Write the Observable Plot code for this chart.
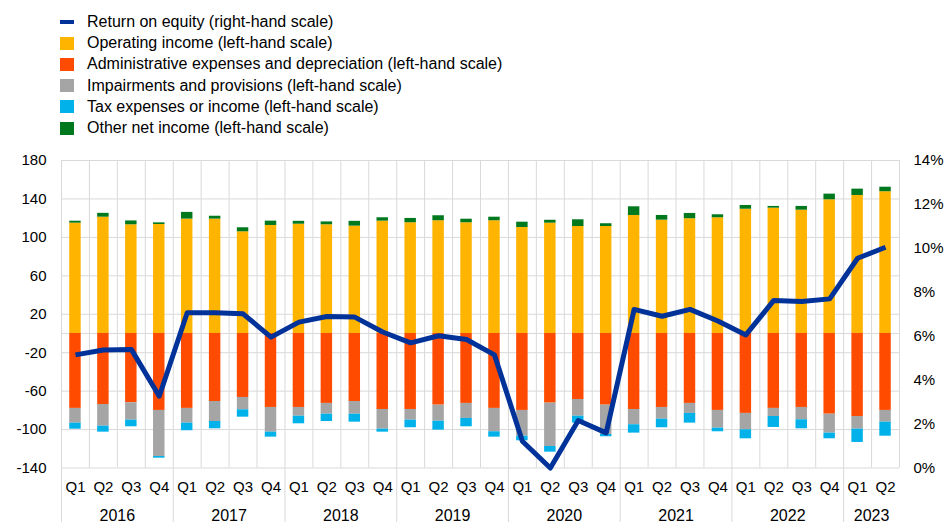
<!DOCTYPE html>
<html><head><meta charset="utf-8">
<script src="https://cdn.jsdelivr.net/npm/d3@7"></script>
<script src="https://cdn.jsdelivr.net/npm/@observablehq/plot@0.6"></script>
<style>
body{margin:0;background:#fff;font-family:Arial,"Liberation Sans",sans-serif;}
#legend{position:relative;height:140px;width:944px;}
.item{position:absolute;left:60px;height:20px;display:flex;align-items:center;font-size:16px;color:#000;white-space:nowrap;}
.sw{width:14px;height:13px;margin-right:13px;flex:none;}
.sw.line{height:4px;}
</style></head><body>
<div id="legend"></div><div id="chart"></div>
<script>
const years = ["2016","2017","2018","2019","2020","2021","2022","2023"];
const quartersPerYear = [4,4,4,4,4,4,4,2];
const quarterNames = ["Q1","Q2","Q3","Q4"];

const operating = [114.8,121,113.1,113.4,119,119,105.8,112.4,113.7,113.1,111.7,116.9,115.2,117.3,115.2,117.3,110.3,114.8,111.3,111.3,122.8,117.9,119.4,120.4,129.3,130.4,128.3,139.1,143.6,147.5];
const adminExp = [-78,-73.9,-72.1,-80.1,-78,-70.8,-66.6,-77,-77,-72.8,-70.8,-79.1,-79.1,-74.6,-72.8,-78,-80.1,-72.5,-68.7,-74.6,-79.1,-77,-72.8,-80.1,-83.2,-78,-77,-84,-86.4,-80.1];
const impairments = [-15.3,-22.6,-18.1,-47.9,-15.3,-20.8,-12.8,-25.7,-9.1,-11.2,-13.2,-20.5,-11.1,-16.7,-15.6,-24.3,-26.8,-45.1,-17.4,-30.5,-15.9,-12.2,-10.4,-18.4,-17,-8.4,-12.8,-19.7,-13.2,-12.2];
const tax = [-6.3,-6.2,-6.9,-1.8,-7.9,-7.6,-7.7,-5.2,-7.9,-7.6,-8.3,-3.1,-7.9,-9.3,-8.7,-5.6,-4.8,-5.9,-7.2,-2.4,-8.7,-8.9,-10.1,-3.8,-9.4,-11.4,-9.4,-5.9,-13.8,-14.6];
const otherNet = [2,4,4,1.7,7,3,4.2,4.5,3,3,5,3.5,4.5,5.2,3.7,3.7,5.5,3,7,2.9,9,4.9,5.5,3.1,3.9,1.8,3.9,5.9,6.6,4.7];
const roe = [5.15,5.37,5.4,3.27,7.07,7.07,7.02,5.96,6.64,6.9,6.87,6.19,5.7,6.02,5.85,5.15,1.22,0.0,2.16,1.6,7.22,6.91,7.22,6.69,6.06,7.63,7.58,7.7,9.55,10.05];

const leftTicks = [-140,-100,-60,-20,20,60,100,140,180];
const rightTicks = [0,2,4,6,8,10,12,14];

const seriesNames = [
  "Operating income (left-hand scale)",
  "Administrative expenses and depreciation (left-hand scale)",
  "Impairments and provisions (left-hand scale)",
  "Tax expenses or income (left-hand scale)",
  "Other net income (left-hand scale)"
];
const seriesColors = ["#ffb400","#ff4b00","#a5a5a5","#00b1ea","#00781e"];
const seriesValues = [operating, adminExp, impairments, tax, otherNet];
const roeName = "Return on equity (right-hand scale)";
const roeColor = "#003299";

// legend
const legendItems = [
  {name: roeName, color: roeColor, line: true},
  {name: seriesNames[0], color: seriesColors[0]},
  {name: seriesNames[1], color: seriesColors[1]},
  {name: seriesNames[2], color: seriesColors[2]},
  {name: seriesNames[3], color: seriesColors[3]},
  {name: seriesNames[4], color: seriesColors[4]}
];
const legend = d3.select("#legend");
legendItems.forEach((it, k) => {
  const row = legend.append("div").attr("class","item").style("top", (11.7 + k*21.3) + "px");
  row.append("div").attr("class", "sw" + (it.line ? " line" : "")).style("background", it.color);
  row.append("span").text(it.name);
});

// periods
const periods = [];
const yearSpans = [];
years.forEach((y, k) => {
  const start = periods.length;
  for (let q = 0; q < quartersPerYear[k]; q++) periods.push({i: periods.length, q: quarterNames[q], year: y});
  yearSpans.push({year: y, start, end: periods.length});
});
const n = periods.length;

const rows = [];
periods.forEach(p => {
  seriesNames.forEach((s, k) => rows.push({i: p.i, series: s, value: seriesValues[k][p.i]}));
});
const roeRows = periods.map(p => ({i: p.i, v: roe[p.i]}));

const yMin = -140, yMax = 180;
const pctToY = v => yMin + v * (yMax - yMin) / 14;
const H = 382, mTop = 20, mBottom = 54.5;
const unitsPerPx = (yMax - yMin) / (H - mTop - mBottom);
const grid = "#d9d9d9";
const barHalf = 0.205;

const chart = Plot.plot({
  width: 944,
  height: H,
  marginLeft: 61,
  marginRight: 45,
  marginTop: mTop,
  marginBottom: mBottom,
  style: {fontFamily: "Arial, 'Liberation Sans', sans-serif", fontSize: "15px", color: "#000", background: "#fff", overflow: "visible"},
  x: {type: "linear", domain: [0, n], axis: null},
  y: {domain: [yMin, yMax], axis: null},
  color: {domain: seriesNames, range: seriesColors},
  marks: [
    Plot.ruleY(leftTicks.concat([0]), {x1: 0, x2: n, stroke: grid, strokeWidth: 1}),
    Plot.ruleX(d3.range(n + 1), {y1: yMin, y2: yMax, stroke: grid, strokeWidth: 1}),
    Plot.ruleX(yearSpans.map(d => d.start), {y1: yMin, y2: yMin - mBottom * unitsPerPx, stroke: grid, strokeWidth: 1}),
    Plot.rectY(rows, {x1: d => d.i + 0.5 - barHalf, x2: d => d.i + 0.5 + barHalf, y: "value", fill: "series"}),
    Plot.line(roeRows, {x: d => d.i + 0.5, y: d => pctToY(d.v), stroke: roeColor, strokeWidth: 5, strokeLinejoin: "round", strokeLinecap: "butt"}),
    Plot.text(leftTicks, {x: 0, y: d => d, text: d => String(d), textAnchor: "end", dx: -15, fontSize: 15}),
    Plot.text(rightTicks, {x: n, y: d => pctToY(d), text: d => d + "%", textAnchor: "start", dx: 14, fontSize: 15}),
    Plot.text(periods, {x: d => d.i + 0.5, y: yMin, dy: 19.5, text: "q", fontSize: 15}),
    Plot.text(yearSpans, {x: d => (d.start + d.end) / 2, y: yMin, dy: 47.5, text: "year", fontSize: 16})
  ]
});
document.getElementById("chart").appendChild(chart);
</script>
</body></html>
